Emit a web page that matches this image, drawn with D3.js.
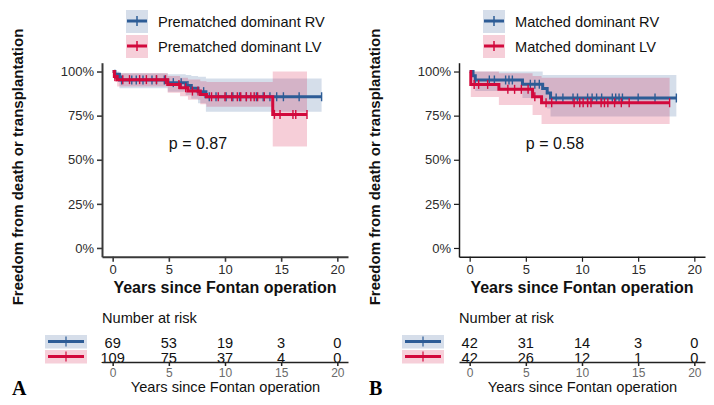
<!DOCTYPE html>
<html>
<head>
<meta charset="UTF-8">
<script src="https://d3js.org/d3.v7.min.js"></script>
<style>
  body { margin: 0; background: #fff; }
  svg text { font-family: "Liberation Sans", Arial, sans-serif; }
</style>
</head>
<body>
<div id="chart"></div>
<script>
    // shared ticks
    const xTicks = [0, 5, 10, 15, 20];
    const yTicks = [0, 0.25, 0.5, 0.75, 1];
    const riskTimes = [0, 5, 10, 15, 20];

    // panel A - prematched, dominant RV
    const preRvTime  = [0, 0.2, 0.6, 4.9, 6.5, 7.0, 7.6, 8.3];
    const preRvSurv  = [1.0, 0.985, 0.952, 0.937, 0.921, 0.905, 0.886, 0.857];
    const preRvUpper = [1.0, 1.0, 0.99, 0.985, 0.98, 0.975, 0.97, 0.961];
    const preRvLower = [1.0, 0.957, 0.905, 0.885, 0.865, 0.845, 0.82, 0.772];
    const preRvEnd = 18.6;
    const preRvCensor = [0.2, 0.8, 1.7, 2.1, 2.7, 3.5, 3.9, 4.6, 5.4, 6.1, 6.7, 8.1, 8.6, 9.2,
        10.1, 10.7, 11.3, 11.9, 12.8, 13.4, 14.0, 14.6, 15.2, 16.6, 18.6];
    const preRvRisk = [69, 53, 19, 3, 0];

    // panel A - prematched, dominant LV
    const preLvTime  = [0, 0.15, 0.4, 4.9, 6.0, 6.7, 7.8, 8.35, 14.25];
    const preLvSurv  = [1.0, 0.972, 0.954, 0.926, 0.908, 0.889, 0.870, 0.857, 0.757];
    const preLvUpper = [1.0, 0.995, 0.99, 0.975, 0.965, 0.955, 0.945, 0.94, 1.0];
    const preLvLower = [1.0, 0.94, 0.915, 0.88, 0.86, 0.84, 0.815, 0.80, 0.575];
    const preLvEnd = 17.3;
    const preLvCensor = [0.2, 0.9, 1.5, 2.4, 3.0, 3.9, 4.7, 5.9, 6.5, 7.1, 7.6, 8.8, 9.4, 10.0,
        10.6, 11.1, 11.4, 11.9, 12.3, 12.6, 12.9, 13.5, 14.4, 14.9, 16.05, 16.3, 17.3];
    const preLvRisk = [109, 75, 37, 4, 0];

    // panel B - matched, dominant RV
    const matRvTime  = [0, 0.3, 0.5, 4.7, 6.5, 6.9, 7.2];
    const matRvSurv  = [1.0, 0.976, 0.952, 0.928, 0.904, 0.878, 0.85];
    const matRvUpper = [1.0, 1.0, 1.0, 1.0, 0.98, 0.98, 0.98];
    const matRvLower = [1.0, 0.93, 0.89, 0.85, 0.82, 0.79, 0.745];
    const matRvEnd = 18.4;
    const matRvCensor = [0.5, 1.75, 2.2, 3.2, 3.5, 3.8, 5.4, 5.8, 6.2, 7.7, 8.3, 9.2, 9.6, 10.5,
        10.9, 11.3, 11.75, 12.7, 13.0, 13.3, 13.6, 15.0, 16.5, 18.4];
    const matRvRisk = [42, 31, 14, 3, 0];

    // panel B - matched, dominant LV
    const matLvTime  = [0, 0.1, 2.6, 5.6, 6.4];
    const matLvSurv  = [1.0, 0.927, 0.899, 0.857, 0.823];
    const matLvUpper = [1.0, 1.0, 0.99, 0.975, 0.965];
    const matLvLower = [1.0, 0.855, 0.81, 0.754, 0.703];
    const matLvEnd = 17.8;
    const matLvCensor = [0.4, 0.8, 1.6, 3.4, 4.0, 4.6, 5.2, 5.8, 6.8, 7.3, 9.3, 9.8, 10.1, 10.5,
        10.8, 11.7, 12.0, 12.3, 12.9, 13.5, 14.2, 17.8];
    const matLvRisk = [42, 26, 12, 1, 0];

    const blue = "#2D5C96", red = "#D2093C";
    const blueFill = "#D6DEEA", redFill = "#F6CFD9";

    const W = 714, H = 405;
    const svg = d3.select("#chart").append("svg")
        .attr("width", W).attr("height", H);

    function makeCurve(time, surv, upper, lower, end, censor) {
        const pts = time.map((t, i) => ({t: t, s: surv[i], hi: upper[i], lo: lower[i]}));
        const last = pts[pts.length - 1];
        pts.push({t: end, s: last.s, hi: last.hi, lo: last.lo});
        return {pts: pts, censor: censor};
    }

    function survAt(curve, t) {
        let s = curve.pts[0].s;
        curve.pts.forEach(p => { if (p.t <= t) s = p.s; });
        return s;
    }

    function drawPanel(offset, cfg) {
        const g = svg.append("g").attr("transform", `translate(${offset},0)`);

        const x = d3.scaleLinear().domain([-0.95, 20.95]).range([102, 348]);
        const y = d3.scaleLinear().domain([-0.05, 1.05]).range([256.8, 62.7]);

        // legend on top
        cfg.series.forEach((sr, i) => {
            const ly = 21 + i * 25;
            g.append("rect").attr("x", 126).attr("y", ly - 11).attr("width", 22).attr("height", 23)
                .attr("fill", sr.fill);
            g.append("line").attr("x1", 127).attr("x2", 147).attr("y1", ly).attr("y2", ly)
                .attr("stroke", sr.color).attr("stroke-width", 3);
            g.append("line").attr("x1", 137).attr("x2", 137).attr("y1", ly - 5).attr("y2", ly + 5)
                .attr("stroke", sr.color).attr("stroke-width", 1.5);
            g.append("text").attr("x", 158).attr("y", ly + 5.5)
                .style("font-size", "14.6px").attr("fill", "#111").text(sr.label);
        });

        // confidence bands
        const area = d3.area().curve(d3.curveStepAfter)
            .x(d => x(d.t)).y0(d => y(d.lo)).y1(d => y(d.hi));
        cfg.series.forEach(sr => {
            g.append("path").datum(sr.curve.pts).attr("d", area)
                .attr("fill", sr.color).attr("fill-opacity", 0.2);
        });

        // survival steps + censor ticks
        const line = d3.line().curve(d3.curveStepAfter).x(d => x(d.t)).y(d => y(d.s));
        cfg.series.forEach(sr => {
            g.append("path").datum(sr.curve.pts).attr("d", line)
                .attr("fill", "none").attr("stroke", sr.color).attr("stroke-width", 3);
            g.append("g").selectAll("line").data(sr.curve.censor).join("line")
                .attr("x1", d => x(d)).attr("x2", d => x(d))
                .attr("y1", d => y(survAt(sr.curve, d)) - 4.5)
                .attr("y2", d => y(survAt(sr.curve, d)) + 4.5)
                .attr("stroke", sr.color).attr("stroke-width", 1.4);
        });

        // axes
        const yAxis = g.append("g").attr("transform", "translate(102,0)")
            .call(d3.axisLeft(y).tickValues(yTicks).tickFormat(d3.format(".0%")).tickSize(5).tickSizeOuter(0));
        const xAxis = g.append("g").attr("transform", "translate(0,256.8)")
            .call(d3.axisBottom(x).tickValues(xTicks).tickSize(5).tickSizeOuter(0));
        [yAxis, xAxis].forEach(a => {
            a.select(".domain").attr("stroke", cfg.axisColor).attr("stroke-width", cfg.axisWidth);
            a.selectAll(".tick line").attr("stroke", cfg.axisColor).attr("stroke-width", cfg.axisWidth * 0.8);
            a.selectAll(".tick text").attr("fill", "#2b2b2b")
                .style("font-size", "13px").style("font-family", "'Liberation Sans', Arial, sans-serif");
        });
        yAxis.selectAll(".tick text").attr("x", -8);
        xAxis.selectAll(".tick text").attr("y", 8);

        // p value
        g.append("text").attr("x", x(5)).attr("y", 149)
            .style("font-size", "16px").attr("fill", "#111").text(cfg.pval);

        // axis titles
        g.append("text").attr("x", 225).attr("y", 293).attr("text-anchor", "middle")
            .style("font-size", "16px").style("font-weight", "bold").attr("fill", "#111")
            .text("Years since Fontan operation");
        g.append("text").attr("transform", "translate(18,167) rotate(-90)")
            .attr("text-anchor", "middle").attr("dy", "0.36em")
            .style("font-size", "15px").style("font-weight", "bold").attr("fill", "#111")
            .text("Freedom from death or transplantation");

        // risk table
        g.append("text").attr("x", 102).attr("y", 322.7)
            .style("font-size", "14.6px").attr("fill", "#111").text("Number at risk");
        cfg.series.forEach((sr, i) => {
            const ry = 341.5 + i * 15;
            g.append("rect").attr("x", 45).attr("y", ry - 6.5).attr("width", 42).attr("height", 13.5)
                .attr("fill", sr.fill);
            g.append("line").attr("x1", 48).attr("x2", 84).attr("y1", ry).attr("y2", ry)
                .attr("stroke", sr.color).attr("stroke-width", 3);
            g.append("line").attr("x1", 66).attr("x2", 66).attr("y1", ry - 5).attr("y2", ry + 5)
                .attr("stroke", sr.color).attr("stroke-width", 1.2);
            g.append("g").selectAll("text").data(sr.risk).join("text")
                .attr("x", (d, j) => x(riskTimes[j])).attr("y", 347.7 + i * 15.3)
                .attr("text-anchor", "middle").style("font-size", "14.6px").attr("fill", "#111")
                .text(d => d);
        });
        const riskAxis = g.append("g").attr("transform", "translate(0,362)")
            .call(d3.axisBottom(x).tickValues(riskTimes).tickSize(4).tickSizeOuter(0));
        riskAxis.select(".domain").attr("stroke", "#222").attr("stroke-width", 1.5);
        riskAxis.selectAll(".tick line").attr("stroke", "#222").attr("stroke-width", 1.5);
        riskAxis.selectAll(".tick text").attr("fill", "#6a6a6a").attr("y", 6)
            .style("font-size", "12px").style("font-family", "'Liberation Sans', Arial, sans-serif");
        g.append("text").attr("x", 225.5).attr("y", 391.7).attr("text-anchor", "middle")
            .style("font-size", "14.6px").attr("fill", "#111").text("Years since Fontan operation");

        // panel letter
        g.append("text").attr("x", 12).attr("y", 395)
            .style("font-family", "'Liberation Serif', 'Times New Roman', serif")
            .style("font-size", "20px").style("font-weight", "bold").attr("fill", "#000")
            .text(cfg.letter);
    }

    drawPanel(0, {
        letter: "A", pval: "p = 0.87", axisColor: "#3a3a3a", axisWidth: 2,
        series: [
            {label: "Prematched dominant RV", color: blue, fill: blueFill, risk: preRvRisk,
             curve: makeCurve(preRvTime, preRvSurv, preRvUpper, preRvLower, preRvEnd, preRvCensor)},
            {label: "Prematched dominant LV", color: red, fill: redFill, risk: preLvRisk,
             curve: makeCurve(preLvTime, preLvSurv, preLvUpper, preLvLower, preLvEnd, preLvCensor)}
        ]
    });

    drawPanel(357, {
        letter: "B", pval: "p = 0.58", axisColor: "#1a1a1a", axisWidth: 1.5,
        series: [
            {label: "Matched dominant RV", color: blue, fill: blueFill, risk: matRvRisk,
             curve: makeCurve(matRvTime, matRvSurv, matRvUpper, matRvLower, matRvEnd, matRvCensor)},
            {label: "Matched dominant LV", color: red, fill: redFill, risk: matLvRisk,
             curve: makeCurve(matLvTime, matLvSurv, matLvUpper, matLvLower, matLvEnd, matLvCensor)}
        ]
    });
</script>
</body>
</html>
